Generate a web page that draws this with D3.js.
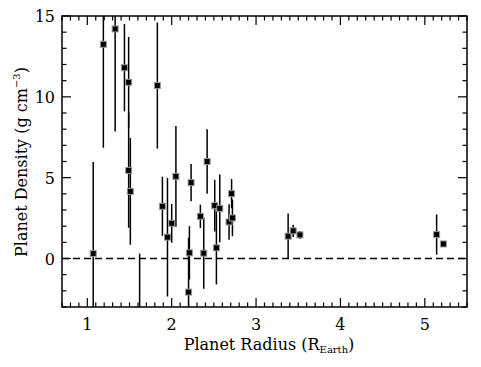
<!DOCTYPE html>
<html>
<head>
<meta charset="utf-8">
<script src="https://cdn.jsdelivr.net/npm/d3@7"></script>
<style>
body { margin:0; background:#fff; }
text { font-family:"DejaVu Serif", "Liberation Serif", serif; fill:#000; }
</style>
</head>
<body>
<div id="chart"></div>
<script>
// planet radius (R_earth), density (g cm^-3) and 1-sigma error
var radius  = [1.07, 1.19, 1.33, 1.44, 1.49, 1.49, 1.51, 1.62, 1.83, 1.89, 1.95, 2.00, 2.05, 2.20, 2.21,
               2.23, 2.34, 2.38, 2.42, 2.51, 2.53, 2.57, 2.68, 2.71, 2.72, 3.38, 3.44, 3.52, 5.14, 5.22];
var density = [0.31, 13.25, 14.2, 11.8, 10.9, 5.45, 4.15, -4.0, 10.7, 3.23, 1.32, 2.18, 5.08, -2.08, 0.35,
               4.69, 2.61, 0.33, 6.0, 3.27, 0.66, 3.1, 2.26, 4.01, 2.51, 1.38, 1.71, 1.46, 1.48, 0.9];
var densErr = [5.66, 6.4, 6.34, 2.7, 2.8, 3.55, 3.3, 4.3, 3.9, 1.83, 3.67, 1.2, 3.12, 3.36, 1.65,
               1.15, 0.72, 2.2, 2.0, 1.6, 2.26, 2.1, 1.1, 0.9, 1.13, 1.4, 0.38, 0.24, 1.24, 0.17];
var xTicks = [1, 2, 3, 4, 5];
var yTicks = [0, 5, 10, 15];

var width = 481, height = 367;
var pL = 62, pR = 467, pT = 16, pB = 307;

var svg = d3.select("#chart").append("svg").attr("width", width).attr("height", height);
svg.append("rect").attr("width", width).attr("height", height).attr("fill", "#fff");

var x = d3.scaleLinear().domain([0.7, 5.5]).range([pL, pR]);
var y = d3.scaleLinear().domain([-3, 15]).range([pB, pT]);

var xMinor = d3.range(7, 56).map(function(d){ return d / 10; });
var yMinor = d3.range(-3, 16);

svg.append("clipPath").attr("id", "clip").append("rect")
	.attr("x", pL).attr("y", pT).attr("width", pR - pL).attr("height", pB - pT);

var plot = svg.append("g").attr("clip-path", "url(#clip)");

// zero line
plot.append("line").attr("x1", pL).attr("x2", pR).attr("y1", y(0)).attr("y2", y(0))
	.attr("stroke", "#000").attr("stroke-width", 1.3).attr("stroke-dasharray", "7,4");

var pts = radius.map(function(r, i){ return {r:r, d:density[i], e:densErr[i]}; });

plot.selectAll("line.err").data(pts).enter().append("line").attr("class", "err")
	.attr("x1", function(d){ return x(d.r); }).attr("x2", function(d){ return x(d.r); })
	.attr("y1", function(d){ return y(d.d + d.e); }).attr("y2", function(d){ return y(d.d - d.e); })
	.attr("stroke", "#000").attr("stroke-width", 1.5);

plot.selectAll("rect.pt").data(pts).enter().append("rect").attr("class", "pt")
	.attr("x", function(d){ return x(d.r) - 3; }).attr("y", function(d){ return y(d.d) - 3; })
	.attr("width", 6).attr("height", 6)
	.attr("fill", "#000").attr("stroke", "#999").attr("stroke-width", 1);

// ticks on all four sides, pointing inward
var ax = svg.append("g").attr("stroke", "#000").attr("stroke-width", 1.2);
xMinor.forEach(function(v){
	var major = Math.abs(v - Math.round(v)) < 1e-6;
	var len = major ? 9 : 4.5;
	ax.append("line").attr("x1", x(v)).attr("x2", x(v)).attr("y1", pB).attr("y2", pB - len);
	ax.append("line").attr("x1", x(v)).attr("x2", x(v)).attr("y1", pT).attr("y2", pT + len);
});
yMinor.forEach(function(v){
	var len = (v % 5 == 0) ? 9 : 4.5;
	ax.append("line").attr("x1", pL).attr("x2", pL + len).attr("y1", y(v)).attr("y2", y(v));
	ax.append("line").attr("x1", pR).attr("x2", pR - len).attr("y1", y(v)).attr("y2", y(v));
});

svg.append("rect").attr("x", pL).attr("y", pT).attr("width", pR - pL).attr("height", pB - pT)
	.attr("fill", "none").attr("stroke", "#000").attr("stroke-width", 1.5);

svg.selectAll("text.xt").data(xTicks).enter().append("text").attr("class", "xt")
	.attr("x", function(d){ return x(d); }).attr("y", 330)
	.attr("text-anchor", "middle").attr("font-size", 16).text(function(d){ return d; });

svg.selectAll("text.yt").data(yTicks).enter().append("text").attr("class", "yt")
	.attr("x", 55).attr("y", function(d){ return y(d) + 6; })
	.attr("text-anchor", "end").attr("font-size", 16).text(function(d){ return d; });

// axis titles
var xt = svg.append("text").attr("x", 269).attr("y", 350).attr("text-anchor", "middle").attr("font-size", 16);
xt.append("tspan").text("Planet Radius (R");
xt.append("tspan").attr("font-size", 10).attr("dy", 3).text("Earth");
xt.append("tspan").attr("dy", -3).text(")");

var yt = svg.append("text").attr("transform", "translate(27,162) rotate(-90)")
	.attr("text-anchor", "middle").attr("font-size", 16);
yt.append("tspan").text("Planet Density (g cm");
yt.append("tspan").attr("font-size", 10).attr("dy", -7).text("\u22123");
yt.append("tspan").attr("dy", 7).text(")");
</script>
</body>
</html>
